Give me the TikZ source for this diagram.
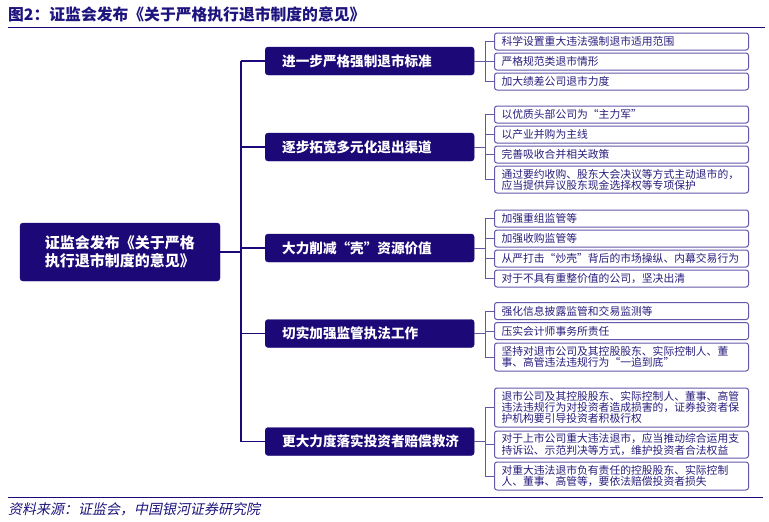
\documentclass[tikz,border=0pt]{standalone}
\usepackage{fontspec}
\setmainfont{Noto Sans CJK SC}
\newfontfamily\cjkit{Noto Sans CJK SC}[FakeSlant=0.2]
\definecolor{navy}{RGB}{28,8,118}
\definecolor{leafline}{RGB}{98,88,170}
\definecolor{leaftext}{RGB}{40,30,125}
\definecolor{titlec}{RGB}{30,20,125}
\begin{document}
\begin{tikzpicture}[x=1pt,y=-1pt,
  mainbox/.style={rectangle,rounded corners=3pt,fill=navy,draw=navy,text=white,
    font=\bfseries\fontsize{15}{17.5}\selectfont,align=center,
    minimum width=200pt,minimum height=58pt,inner sep=0pt},
  midbox/.style={rectangle,rounded corners=3pt,fill=navy,draw=navy,text=white,
    font=\bfseries\fontsize{13.6}{15}\selectfont,align=left,anchor=west,
    text width=175pt,inner xsep=17pt,inner ysep=0pt,minimum height=28pt},
  leaf/.style={rectangle,rounded corners=2.5pt,fill=white,draw=leafline,line width=1pt,
    text=leaftext,font=\fontsize{10.8}{11.2}\selectfont,align=left,anchor=west,
    text width=240pt,inner xsep=7pt,inner ysep=0pt,minimum height=17pt},
  trunk/.style={draw=navy,line width=1.6pt},
  twig/.style={draw=leafline,line width=1pt}]
\useasboundingbox (0,0) rectangle (769,522);

% title
\node[anchor=west,inner sep=0pt,text=titlec,font=\bfseries\fontsize{15.8}{17}\selectfont] (title) at (8,14) {图2：证监会发布《关于严格执行退市制度的意见》};
\coordinate (tl1) at (8,27.5);
\coordinate (tl2) at (765,27.5);
\draw[navy,line width=1.8pt] (tl1) -- (tl2);

% source
\coordinate (bl1) at (8,497.5);
\coordinate (bl2) at (763,497.5);
\draw[navy,line width=1.4pt] (bl1) -- (bl2);
\node[anchor=west,inner sep=0pt,text=titlec,font=\cjkit\fontsize{14}{15}\selectfont] (src) at (8,509.5) {资料来源：证监会，中国银河证券研究院};

% main
\node[mainbox] (main) at (120,252) {证监会发布《关于严格\\执行退市制度的意见》};

% level 2
\node[midbox] (m1) at (265,61) {进一步严格强制退市标准};
\node[midbox] (m2) at (265,147) {逐步拓宽多元化退出渠道};
\node[midbox] (m3) at (265,248) {大力削减“壳”资源价值};
\node[midbox] (m4) at (265,333.5) {切实加强监管执法工作};
\node[midbox] (m5) at (265,441.5) {更大力度落实投资者赔偿救济};

% trunk
\coordinate (tx) at (241,0);
\draw[trunk] (m1.west -| tx) -- (m5.west -| tx);
\draw[trunk] (main.east) -- (main.east -| tx);
\foreach \m in {m1,m2,m3,m4,m5} \draw[trunk] (\m.west -| tx) -- (\m.west);

% leaves
\node[leaf] (a1) at (494,41.5) {科学设置重大违法强制退市适用范围};
\node[leaf] (a2) at (494,61.5) {严格规范类退市情形};
\node[leaf] (a3) at (494,81.5) {加大绩差公司退市力度};

\node[leaf] (b1) at (494,114.5) {以优质头部公司为“主力军”};
\node[leaf] (b2) at (494,134.5) {以产业并购为主线};
\node[leaf] (b3) at (494,154.5) {完善吸收合并相关政策};
\node[leaf,minimum height=27pt] (b4) at (494,179.5) {通过要约收购、股东大会决议等方式主动退市的，\\应当提供异议股东现金选择权等专项保护};

\node[leaf] (c1) at (494,218.5) {加强重组监管等};
\node[leaf] (c2) at (494,238.5) {加强收购监管等};
\node[leaf] (c3) at (494,258.5) {从严打击“炒壳”背后的市场操纵、内幕交易行为};
\node[leaf] (c4) at (494,278.5) {对于不具有重整价值的公司，坚决出清};

\node[leaf] (d1) at (494,311) {强化信息披露监管和交易监测等};
\node[leaf] (d2) at (494,331) {压实会计师事务所责任};
\node[leaf,minimum height=28pt] (d3) at (494,357) {坚持对退市公司及其控股股东、实际控制人、董\\事、高管违法违规行为“一追到底”};

\node[leaf,minimum height=39pt] (e1) at (494,407.5) {退市公司及其控股股东、实际控制人、董事、高管\\违法违规行为对投资者造成损害的，证券投资者保\\护机构要引导投资者积极行权};
\node[leaf,minimum height=27pt] (e2) at (494,444.5) {对于上市公司重大违法退市，应当推动综合运用支\\持诉讼、示范判决等方式，维护投资者合法权益};
\node[leaf,minimum height=28pt] (e3) at (494,476) {对重大违法退市负有责任的控股股东、实际控制\\人、董事、高管等，要依法赔偿投资者损失};

% twigs
\coordinate (bx) at (485,0);
\draw[twig] (a1.west -| bx) -- (a3.west -| bx);
\draw[twig] (b1.west -| bx) -- (b4.west -| bx);
\draw[twig] (c1.west -| bx) -- (c4.west -| bx);
\draw[twig] (d1.west -| bx) -- (d3.west -| bx);
\draw[twig] (e1.west -| bx) -- (e3.west -| bx);
\foreach \m in {m1,m2,m3,m4,m5} \draw[twig] (\m.east) -- (\m.east -| bx);
\foreach \l in {a1,a2,a3,b1,b2,b3,b4,c1,c2,c3,c4,d1,d2,d3,e1,e2,e3} \draw[twig] (\l.west -| bx) -- (\l.west);
\end{tikzpicture}
\end{document}
